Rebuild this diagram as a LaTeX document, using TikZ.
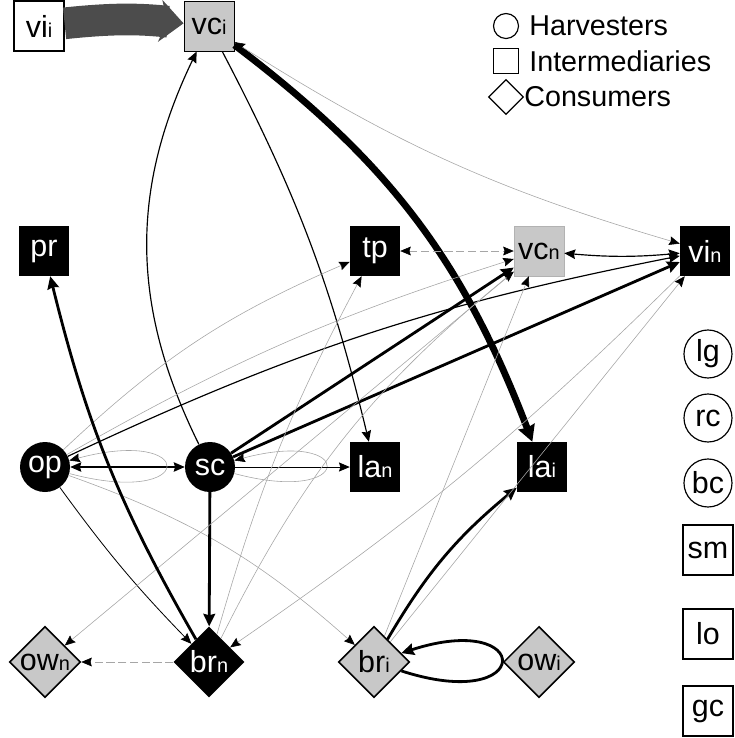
\documentclass[tikz,border=0pt]{standalone}
\usepackage{fontspec}
\setmainfont{Liberation Sans}
\usepackage{tikz}
\usetikzlibrary{arrows.meta, shapes.geometric, positioning}
\newcommand{\nodefont}{\fontsize{26}{26}\selectfont}
\newcommand{\keyfont}{\fontsize{24.5}{24.5}\selectfont}
\newcommand{\lsub}[1]{{\fontsize{17}{17}\selectfont #1}}
\tikzset{
>={Stealth[length=3mm 0.9, width=2.4mm 1.3, inset=0.4mm, color=black]},
actor/.style={inner sep=0pt, font=\nodefont},
harvester/.style={actor, circle, minimum size=15mm},
broker/.style={actor, rectangle, minimum size=15mm},
consumer/.style={actor, diamond, aspect=1, minimum size=21.3mm},
dark/.style={fill=black, text=black!0},
light/.style={fill=white, draw=black, line width=1pt},
grey/.style={fill=gray!43, draw=black, line width=1.3pt},
weak/.style={draw=gray!70, line width=0.5pt},
link/.style={draw=black, line width=1pt},
strong/.style={draw=black, line width=2.4pt},
heavy/.style={draw=black, line width=5.8pt},
gap/.style={dash pattern=on 7pt off 3pt},
}

\begin{document}
\begin{tikzpicture}[x=0.3mm, y=0.3mm]
\useasboundingbox (0,0) rectangle (735,-738);

% actors in the chain
\node[broker, light] at (39,-26) (vii) {vi\lsub{i}};
\node[broker, grey, line width=0.8pt] at (209,-26) (vci) {vc\lsub{i}};
\node[broker, dark] at (44,-251) (pr) {pr};
\node[broker, dark] at (375,-251) (tp) {tp};
\node[broker, fill=gray!43, draw=gray!60] at (539,-251) (vcn) {vc\lsub{n}};
\node[broker, dark] at (705,-251) (vin) {vi\lsub{n}};
\node[harvester, dark] at (45,-467) (op) {op};
\node[harvester, dark] at (210,-467) (sc) {sc};
\node[broker, dark] at (375,-467) (lan) {la\lsub{n}};
\node[broker, dark] at (542,-467) (lai) {la\lsub{i}};
\node[consumer, grey] at (45,-662) (own) {ow\lsub{n}};
\node[consumer, dark] at (209,-662) (brn) {br\lsub{n}};
\node[consumer, grey] at (374,-662) (bri) {br\lsub{i}};
\node[consumer, grey] at (539,-662) (owi) {ow\lsub{i}};

% actors without ties
\node[harvester, light, minimum size=14.4mm] at (708,-354) (lg) {lg};
\node[harvester, light, minimum size=14.4mm] at (708,-418) (rc) {rc};
\node[harvester, light, minimum size=14.4mm] at (708,-483) (bc) {bc};
\node[broker, light] at (708,-550) (sm) {sm};
\node[broker, light] at (708,-634) (lo) {lo};
\node[broker, light] at (708,-711) (gc) {gc};

% key
\node[circle, draw, line width=1pt, minimum size=7.5mm] at (506,-26) (keyh) {};
\node[rectangle, draw, line width=1pt, minimum size=7.5mm] at (506,-61) (keyi) {};
\node[diamond, draw, line width=1pt, aspect=1, minimum size=10.5mm] at (506,-97) (keyc) {};
\node[right=3mm of keyh, inner sep=0pt, font=\keyfont] (txth) {Harvesters};
\node[right=3mm of keyi, inner sep=0pt, font=\keyfont] (txti) {Intermediaries};
\node[right=0mm of keyc, inner sep=0pt, font=\keyfont] (txtc) {Consumers};

% flows
\path (vii) edge[draw=black!70, line width=9.5mm, bend left=6,
        -{Stealth[length=7mm, width=12.5mm, inset=2mm, color=black!70]}] (vci);

\path (vci) edge[heavy, ->, bend left=16] (lai)
      (sc) edge[link, ->, bend left=26] (vci)
      (vci) edge[link, ->, bend left=7] (lan)
      (vci) edge[weak, <->, bend right=8] (vin);

\path (op) edge[link, <->] (sc)
      (op) edge[weak, ->, out=-15, in=15, min distance=4cm] (op)
      (op) edge[weak, ->, bend left=10] (tp)
      (op) edge[weak, ->, bend left=6] (vcn)
      (op) edge[link, ->, bend left=7] (vin)
      (op) edge[link, line width=0.7pt, ->, bend right=4] (brn)
      (op) edge[weak, ->, bend left=11] (bri);

\path (sc) edge[weak, ->, out=-15, in=15, min distance=3.8cm] (sc)
      (sc) edge[link, line width=0.7pt, ->] (lan)
      (sc) edge[strong, ->] (vcn)
      (sc) edge[strong, ->] (vin)
      (sc) edge[strong, ->] (brn);

\path (tp) edge[weak, gap, <->] (vcn)
      (vcn) edge[link, <->, bend right=5] (vin)
      (vcn) edge[weak, ->] (own)
      (vin) edge[weak, ->, bend left=5] (brn);

\path (brn) edge[strong, ->, bend left=8] (pr)
      (brn) edge[weak, ->, bend left=6] (tp)
      (brn) edge[weak, ->, bend left=12] (vcn)
      (brn) edge[weak, gap, ->] (own);

\path (bri) edge[strong, ->, bend left=10] (lai)
      (bri) edge[strong, ->, out=-18, in=18, min distance=4.2cm] (bri)
      (bri) edge[weak, ->] (vcn)
      (bri) edge[weak, ->] (vin);

\end{tikzpicture}
\end{document}
